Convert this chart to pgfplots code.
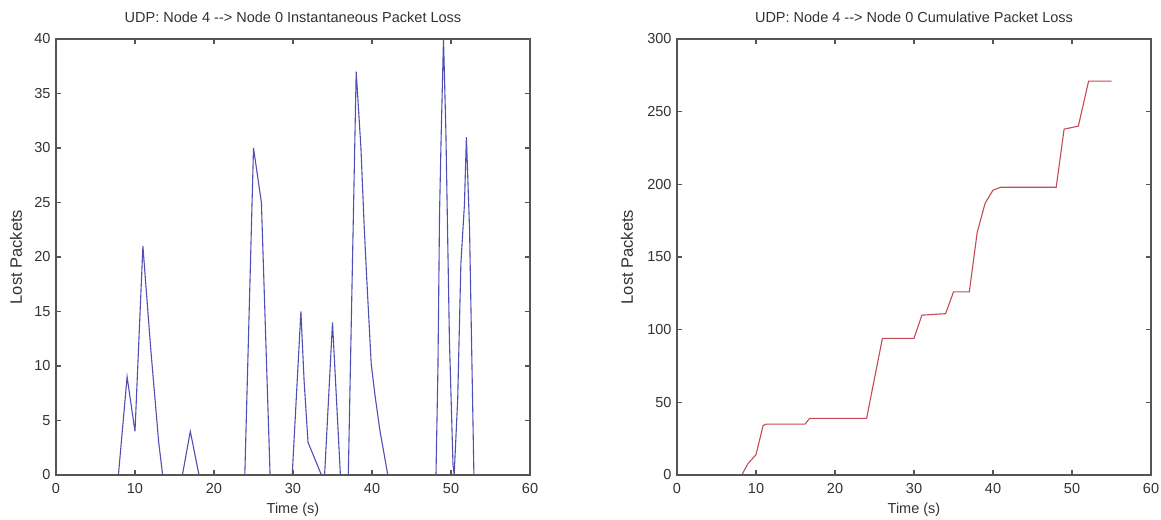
\documentclass[border=0pt]{standalone}
\usepackage{pgfplots}
\pgfplotsset{compat=1.18}
\usepackage{fontspec}
\setmainfont{Liberation Sans}
\definecolor{lineblue}{RGB}{80,80,180}
\definecolor{linered}{RGB}{195,75,85}
\definecolor{axgray}{RGB}{85,85,85}
\definecolor{txtgray}{RGB}{50,50,50}
\pgfplotsset{
  matstyle/.style={
    scale only axis,
    width=474pt, height=436pt,
    anchor=south west,
    xmin=0, xmax=60,
    xtick={0,10,...,60},
    axis on top,
    axis line style={axgray, line width=1.4pt},
    every tick/.style={axgray, line width=1.2pt},
    major tick length=5pt,
    tick pos=both,
    tick align=inside,
    /pgf/number format/assume math mode=true,
    tick label style={font=\fontsize{14.5}{16}\selectfont, text=txtgray},
    xticklabel style={anchor=center, yshift=-14pt},
    yticklabel style={anchor=east, xshift=-2pt},
    title style={font=\fontsize{14.5}{16}\selectfont, text=txtgray, at={(axis description cs:0.5,1.035)}, anchor=center},
    xlabel style={font=\fontsize{14.5}{16}\selectfont, text=txtgray, at={(axis description cs:0.5,-0.0803)}, anchor=center},
    ylabel style={font=\fontsize{16.5}{18}\selectfont, text=txtgray},
    xlabel={Time (s)},
    ylabel={Lost Packets},
    scaled ticks=false,
  }
}
\begin{document}
\begin{tikzpicture}
\useasboundingbox (0,0) rectangle (1161pt,519pt);
\begin{axis}[matstyle,
  at={(56pt,44pt)},
  ymin=0, ymax=40,
  ytick={0,5,...,40},
  title={UDP: Node 4 {-}{-}> Node 0 Instantaneous Packet Loss},
  ylabel style={at={(axis description cs:-0.0844,0.5)}, anchor=center, rotate=0},
]
\addplot[lineblue, line width=1.1pt] coordinates {
(7.9,0) (9,9) (10,4) (11,21) (12,11.5) (13,3) (13.5,0)
(16,0) (17,4) (18.1,0)
(23.9,0) (24.6,19) (25,30) (26,25) (27.1,0)
(29.9,0) (31,15) (31.4,8.7) (31.9,3) (33.6,0) (34,0) (35,14) (36,0)
(37,0) (38,37) (38.6,30) (39,23) (39.3,18.5) (39.9,10.2) (40.4,7.2) (41,4.1) (42,0)
(48.1,0) (48.35,10) (48.55,24) (48.75,31) (49.05,40) (49.35,31.6) (49.8,12.4) (50.25,1) (50.4,0)
(50.85,7) (51.25,19.4) (51.7,24.8) (51.95,31) (52.35,22.5) (52.9,0)
};
\end{axis}
\begin{axis}[matstyle,
  at={(677pt,44pt)},
  ymin=0, ymax=300,
  ytick={0,50,...,300},
  title={UDP: Node 4 {-}{-}> Node 0 Cumulative Packet Loss},
  ylabel style={at={(axis description cs:-0.1055,0.5)}, anchor=center, rotate=0},
]
\addplot[linered, line width=1.1pt] coordinates {
(8.2,0) (9,8) (10,14) (10.9,34) (11.3,35) (16.2,35) (16.8,39) (24,39) (26,94) (30,94)
(31,110) (34,111) (35,126) (37,126) (38,167) (39,187) (40,196) (41,198) (48,198)
(49,238) (50.8,240) (52.1,271) (55,271)
};
\end{axis}
\end{tikzpicture}
\end{document}
